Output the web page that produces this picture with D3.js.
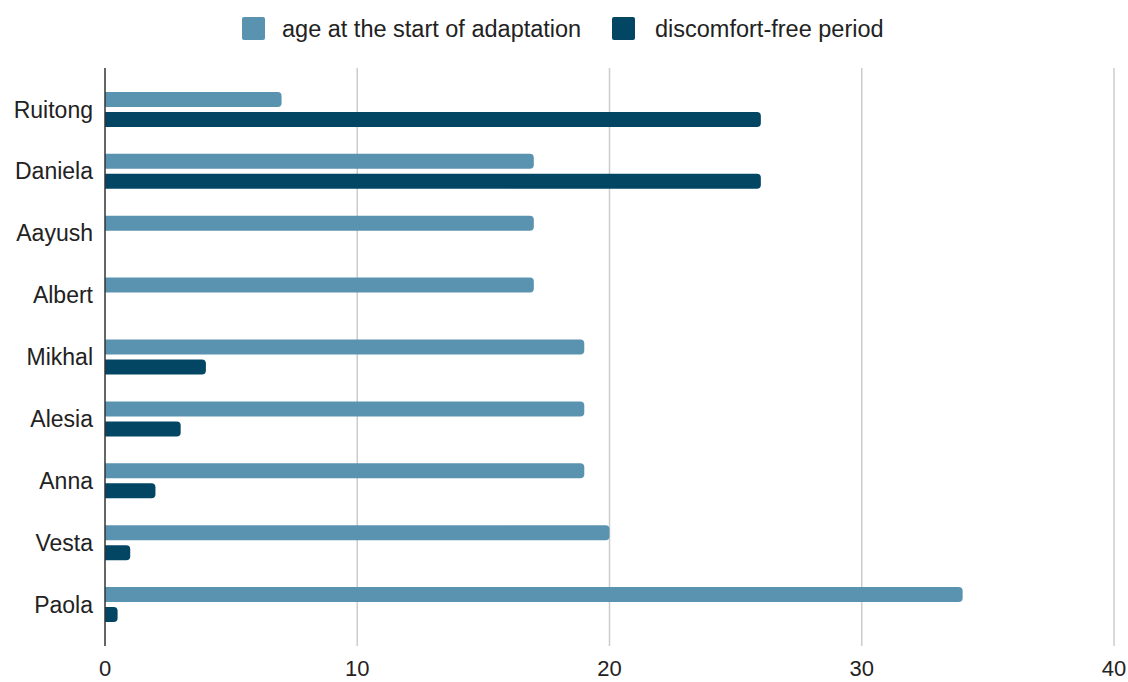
<!DOCTYPE html>
<html>
<head>
<meta charset="utf-8">
<script src="https://cdn.jsdelivr.net/npm/d3@7"></script>
<style>
  body { margin: 0; background: #fff; }
  text { font-family: "Liberation Sans", Arial, sans-serif; fill: #222; }
</style>
</head>
<body>
<script>
// data
var names = ["Ruitong", "Daniela", "Aayush", "Albert", "Mikhal", "Alesia", "Anna", "Vesta", "Paola"];
var seriesNames = ["age at the start of adaptation", "discomfort-free period"];
var ageStart = [7, 17, 17, 17, 19, 19, 19, 20, 34];
var freePeriod = [26, 26, 0, 0, 4, 3, 2, 1, 0.5];
var xTicks = [0, 10, 20, 30, 40];
var colors = ["#5a93b0", "#034663"];

var width = 1128, height = 682,
    margin = { top: 68, right: 14, bottom: 36, left: 105 },
    fontSize = "23px";

var svg = d3.select("body").append("svg")
    .attr("width", width)
    .attr("height", height);

var x = d3.scaleLinear()
    .domain([0, 40])
    .range([margin.left, width - margin.right]);

var y = d3.scaleBand()
    .domain(names)
    .range([margin.top, height - margin.bottom])
    .paddingInner(0)
    .paddingOuter(0.17);

var ySeries = d3.scaleBand()
    .domain([0, 1])
    .range([-17.5, 17.5])
    .paddingInner(0.25);

// grid
svg.append("g").selectAll("line")
    .data(xTicks.filter(function (d) { return d > 0; }))
    .enter().append("line")
    .attr("x1", function (d) { return x(d); })
    .attr("x2", function (d) { return x(d); })
    .attr("y1", margin.top)
    .attr("y2", height - margin.bottom)
    .attr("stroke", "#ccc")
    .attr("stroke-width", 1.5);

// bar with rounded right end
function barPath(x0, x1, y0, h, r) {
    r = Math.min(r, (x1 - x0), h / 2);
    return "M" + x0 + "," + y0 +
        "H" + (x1 - r) +
        "Q" + x1 + "," + y0 + " " + x1 + "," + (y0 + r) +
        "V" + (y0 + h - r) +
        "Q" + x1 + "," + (y0 + h) + " " + (x1 - r) + "," + (y0 + h) +
        "H" + x0 + "Z";
}

var rows = names.map(function (n, i) {
    return { name: n, values: [ageStart[i], freePeriod[i]] };
});

var groups = svg.append("g").selectAll("g")
    .data(rows)
    .enter().append("g")
    .attr("transform", function (d) {
        return "translate(0," + (y(d.name) + y.bandwidth() / 2) + ")";
    });

groups.selectAll("path")
    .data(function (d) {
        return d.values.map(function (v, k) { return { v: v, k: k }; })
            .filter(function (e) { return e.v > 0; });
    })
    .enter().append("path")
    .attr("d", function (e) {
        return barPath(x(0), x(e.v), ySeries(e.k), ySeries.bandwidth(), 4);
    })
    .attr("fill", function (e) { return colors[e.k]; });

// y labels
groups.append("text")
    .attr("x", margin.left - 12)
    .attr("y", 0)
    .attr("dy", "0.35em")
    .attr("text-anchor", "end")
    .style("font-size", fontSize)
    .text(function (d) { return d.name; });

// axis line
svg.append("line")
    .attr("x1", x(0)).attr("x2", x(0))
    .attr("y1", margin.top)
    .attr("y2", height - margin.bottom)
    .attr("stroke", "#333")
    .attr("stroke-width", 1.5);

// x tick labels
svg.append("g").selectAll("text")
    .data(xTicks)
    .enter().append("text")
    .attr("x", function (d) { return x(d); })
    .attr("y", 676)
    .attr("text-anchor", "middle")
    .style("font-size", "22px")
    .text(function (d) { return d; });

// legend
var legendX = [242, 612];
var legend = svg.append("g").selectAll("g")
    .data(seriesNames)
    .enter().append("g")
    .attr("transform", function (d, i) { return "translate(" + legendX[i] + ",17)"; });

legend.append("rect")
    .attr("width", 23)
    .attr("height", 23)
    .attr("rx", 2)
    .attr("fill", function (d, i) { return colors[i]; });

legend.append("text")
    .attr("x", function (d, i) { return i === 0 ? 40 : 43; })
    .attr("y", 12)
    .attr("dy", "0.35em")
    .style("font-size", "23.5px")
    .text(function (d) { return d; });
</script>
</body>
</html>
